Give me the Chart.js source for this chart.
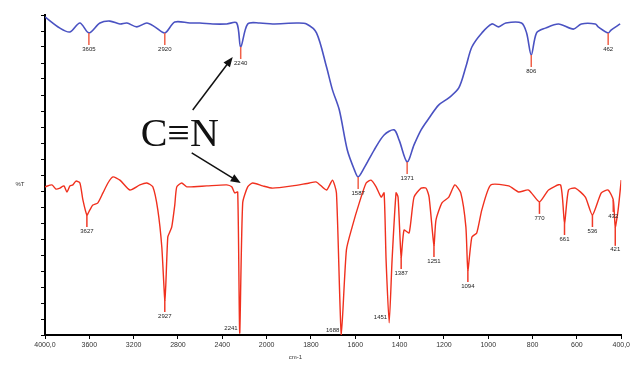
<!DOCTYPE html>
<html>
<head>
<meta charset="utf-8">
<script src="https://cdn.jsdelivr.net/npm/chart.js@4/dist/chart.umd.min.js"></script>
<style>
  html, body { margin: 0; padding: 0; background: #fff; }
  #wrap { width: 632px; height: 365px; position: relative; }
</style>
</head>
<body>
<div id="wrap"><canvas id="ir"></canvas></div>
<script>
// Spektrum oben (blau) – Wellenzahl / Transmission
const blueWn = [4000, 3865, 3775, 3685, 3604, 3504, 3414, 3324, 3261, 3171, 3081, 3009, 2919, 2829, 2693, 2603, 2486, 2360, 2270, 2234, 2171, 2063,
  1973, 1865, 1820, 1775, 1730, 1703, 1672, 1636, 1604, 1587, 1560, 1515, 1470, 1425, 1402, 1366, 1335, 1303, 1267, 1223, 1178, 1133, 1101, 1074,
  1029, 984, 953, 921, 850, 827, 806, 782, 742, 683, 616, 580, 517, 504, 459, 446, 405];
const blueT = [99.4, 95.9, 94.7, 97.5, 94.4, 97.5, 98.1, 97.2, 97.5, 96.3, 97.5, 96.3, 94.4, 97.8, 97.5, 97.5, 97.2, 97.2, 97.5, 90.0, 97.2, 97.5,
  97.2, 97.5, 97.2, 94.4, 83.8, 76.6, 70.3, 57.8, 51.6, 49.4, 52.2, 57.8, 62.5, 64.1, 60.9, 54.1, 59.4, 64.1, 67.8, 71.9, 74.1, 77.2, 83.8, 90.0,
  94.4, 97.2, 96.3, 97.5, 97.5, 94.4, 87.5, 94.4, 95.9, 97.2, 95.6, 97.2, 97.2, 96.3, 94.4, 95.3, 97.2];

// Spektrum unten (rot)
const redWn = [4000, 3937, 3901, 3865, 3829, 3802, 3775, 3748, 3721, 3685, 3658, 3622, 3595, 3568, 3523, 3477, 3432, 3387, 3324, 3234, 3144, 3081,
  3027, 2982, 2946, 2919, 2910, 2892, 2874, 2856, 2829, 2811, 2766, 2721, 2540, 2360, 2315, 2288, 2261, 2243, 2216, 2171, 2126, 2036,
  1973, 1883, 1807, 1775, 1730, 1703, 1685, 1663, 1640, 1614, 1582, 1551, 1529, 1506, 1483, 1470, 1461, 1447, 1434, 1416, 1407, 1393,
  1380, 1357, 1335, 1303, 1281, 1267, 1245, 1236, 1209, 1178, 1151, 1124, 1101, 1092, 1074, 1052, 1029, 989, 908, 863, 818, 769, 728,
  674, 656, 638, 607, 562, 530, 490, 459, 436, 427, 414, 400];
const redT = [46.3, 46.9, 45.6, 45.9, 46.6, 44.7, 46.6, 46.9, 48.1, 47.5, 42.2, 37.5, 39.1, 40.6, 41.3, 44.4, 47.5, 49.4, 48.4, 45.3, 46.9, 47.5,
  46.3, 39.1, 27.5, 10.9, 15.6, 30.6, 32.2, 33.8, 40.6, 46.3, 47.5, 46.3, 46.6, 46.9, 46.3, 44.4, 44.7, 0.6, 41.3, 46.3, 47.5, 46.6,
  45.9, 46.6, 47.5, 47.8, 45.3, 48.4, 44.4, 0.0, 26.6, 33.8, 41.3, 47.5, 48.4, 46.3, 43.1, 44.4, 23.4, 3.8, 23.4, 44.4, 43.1, 24.4,
  32.8, 31.9, 43.1, 45.9, 45.9, 43.1, 28.1, 35.9, 41.3, 43.1, 46.9, 44.4, 33.8, 20.3, 30.6, 31.9, 39.1, 46.9, 46.6, 44.7, 45.3, 41.6, 45.3,
  46.9, 35.0, 45.3, 45.9, 43.1, 37.5, 44.4, 45.3, 42.2, 33.8, 39.1, 48.4];

// Peak-Beschriftungen
const bluePeakWn = [3604, 2919, 2234, 1587, 1366, 806, 459];
const bluePeakLbl = ['3605', '2920', '2240', '1587', '1371', '806', '462'];
const redPeakWn = [3622, 2919, 2243, 1663, 1447, 1393, 1245, 1092, 769, 656, 530, 436, 427];
const redPeakLbl = ['3627', '2927', '2241', '1688', '1451', '1387', '1251', '1094', '770', '661', '536', '432', '421'];

// X-Achse: 4000-2000 gestaucht, unterhalb 2000 doppelt gedehnt
const tickWn = [4000, 3600, 3200, 2800, 2400, 2000, 1800, 1600, 1400, 1200, 1000, 800, 600, 400];

function toAxis(wn) {
    return wn >= 2000 ? (4000 - wn) / 400 : 5 + (2000 - wn) / 200;
}
function pts(wn, t) {
    return wn.map((w, i) => ({ x: toAxis(w), y: t[i] }));
}
function tickText(u) {
    const w = tickWn[Math.round(u)];
    if (w === 4000 || w === 400) return w + ',0';
    return String(w);
}

// Beschriftungen, Pfeile, Achsentitel
const annotPlugin = {
    id: 'annot',
    afterDatasetsDraw(chart) {
        const ctx = chart.ctx;
        const xs = chart.scales.x, ys = chart.scales.y;
        const X = (w) => xs.getPixelForValue(toAxis(w));
        const Y = (t) => ys.getPixelForValue(t);

        function peaks(wn, lbl, srcWn, srcT, stemColor) {
            ctx.save();
            ctx.font = '6px "Liberation Sans", sans-serif';
            ctx.textAlign = 'center';
            ctx.textBaseline = 'top';
            wn.forEach((w, i) => {
                const idx = srcWn.indexOf(w);
                const px = X(w), py = Y(srcT[idx]);
                let drop = 12;
                if (lbl[i] === '421') drop = 19;
                if (py + drop + 8 > chart.chartArea.bottom) {
                    ctx.fillStyle = '#222';
                    ctx.textAlign = 'right';
                    ctx.fillText(lbl[i], px - 2, py - 8);
                    ctx.textAlign = 'center';
                    return;
                }
                ctx.strokeStyle = stemColor;
                ctx.lineWidth = 1.5;
                ctx.beginPath();
                ctx.moveTo(px, py);
                ctx.lineTo(px, py + drop);
                ctx.stroke();
                ctx.fillStyle = '#222';
                ctx.fillText(lbl[i], px, py + drop + 1);
            });
            ctx.restore();
        }
        peaks(bluePeakWn, bluePeakLbl, blueWn, blueT, '#f06048');
        peaks(redPeakWn, redPeakLbl, redWn, redT, '#f03a28');

        function arrow(w0, t0, w1, t1) {
            const x0 = X(w0), y0 = Y(t0), x1 = X(w1), y1 = Y(t1);
            const a = Math.atan2(y1 - y0, x1 - x0);
            ctx.save();
            ctx.strokeStyle = '#111';
            ctx.fillStyle = '#111';
            ctx.lineWidth = 1.5;
            ctx.beginPath();
            ctx.moveTo(x0, y0);
            ctx.lineTo(x1 - 6 * Math.cos(a), y1 - 6 * Math.sin(a));
            ctx.stroke();
            ctx.beginPath();
            ctx.moveTo(x1, y1);
            ctx.lineTo(x1 - 10 * Math.cos(a) + 4 * Math.sin(a), y1 - 10 * Math.sin(a) - 4 * Math.cos(a));
            ctx.lineTo(x1 - 10 * Math.cos(a) - 4 * Math.sin(a), y1 - 10 * Math.sin(a) + 4 * Math.cos(a));
            ctx.closePath();
            ctx.fill();
            ctx.restore();
        }
        arrow(2667, 70.3, 2306, 86.9);
        arrow(2676, 56.9, 2234, 47.5);

        ctx.save();
        ctx.fillStyle = '#111';
        ctx.font = '40px "Liberation Serif", "Times New Roman", serif';
        ctx.textAlign = 'center';
        ctx.textBaseline = 'middle';
        ctx.fillText('C\u2261N', X(2784), Y(62.5));
        ctx.font = '6px "Liberation Sans", sans-serif';
        ctx.fillStyle = '#333';
        ctx.fillText('%T', 20, Y(47));
        ctx.fillText('cm-1', X(1870), 357);
        ctx.restore();
    }
};

new Chart(document.getElementById('ir'), {
    type: 'line',
    data: {
        datasets: [
            { data: pts(blueWn, blueT), borderColor: '#4a52c2', borderWidth: 1.6, pointRadius: 0, tension: 0.3 },
            { data: pts(redWn, redT), borderColor: '#f0301e', borderWidth: 1.4, pointRadius: 0, tension: 0.2 }
        ]
    },
    options: {
        responsive: true,
        maintainAspectRatio: false,
        animation: false,
        layout: { padding: { left: 0, right: 9, top: 15, bottom: 0 } },
        plugins: { legend: { display: false }, tooltip: { enabled: false } },
        scales: {
            x: {
                type: 'linear',
                min: 0,
                max: 13,
                afterFit: (s) => { s.height = 30; },
                border: { color: '#000', width: 2 },
                grid: { drawOnChartArea: false, drawTicks: true, tickLength: 4, color: '#000' },
                ticks: {
                    stepSize: 1,
                    maxRotation: 0,
                    autoSkip: false,
                    padding: 2,
                    color: '#333',
                    font: { size: 7, family: 'Liberation Sans' },
                    callback: (v) => tickText(v)
                }
            },
            y: {
                min: 0,
                max: 100,
                afterFit: (s) => { s.width = 45; },
                border: { color: '#000', width: 2 },
                grid: { drawOnChartArea: false, drawTicks: true, tickLength: 4, color: '#000' },
                ticks: { stepSize: 5, display: false }
            }
        }
    },
    plugins: [annotPlugin]
});
</script>
</body>
</html>
